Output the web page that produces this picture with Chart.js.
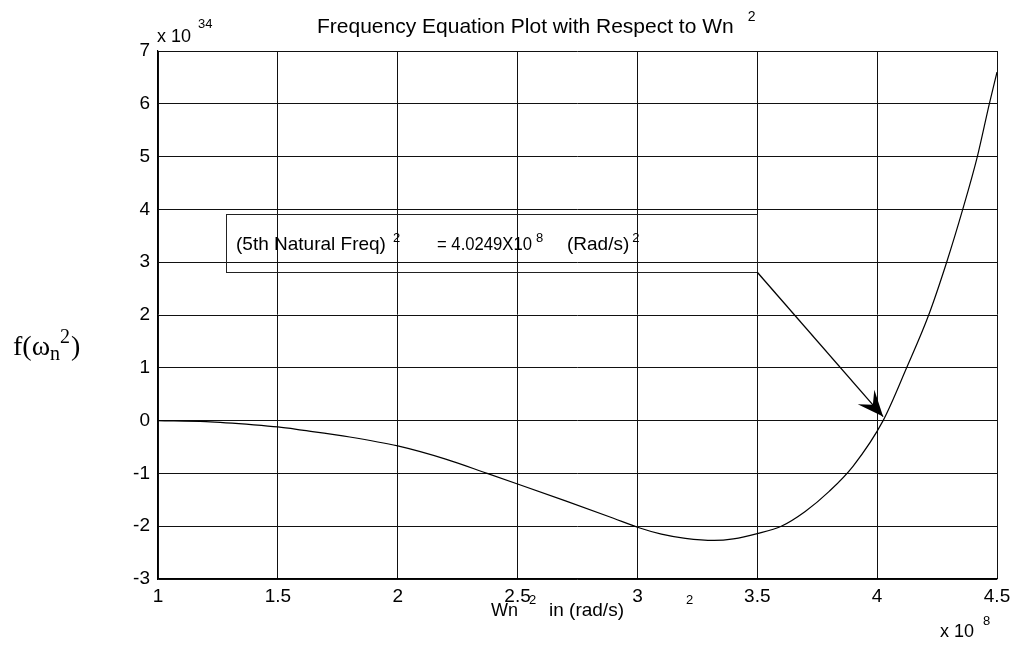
<!DOCTYPE html>
<html>
<head>
<meta charset="utf-8">
<script src="https://cdn.jsdelivr.net/npm/chart.js@4/dist/chart.umd.min.js"></script>
<style>
  html, body { margin: 0; padding: 0; background: #fff; }
  #wrap { width: 1013px; height: 645px; }
</style>
</head>
<body>
<div id="wrap"><canvas id="c" width="1013" height="645"></canvas></div>
<script>
// Wn^2 (x 10^8)
const xVals = [1.0, 1.2, 1.4, 1.5, 1.6, 1.8, 2.0, 2.2, 2.373, 2.5, 2.7, 2.9, 3.0, 3.1, 3.2, 3.32, 3.4, 3.5, 3.6, 3.7, 3.8, 3.9, 4.0249, 4.123, 4.215, 4.29, 4.357, 4.418, 4.468, 4.5];
// f(wn^2) (x 10^34)
const yVals = [0, -0.02, -0.08, -0.12, -0.18, -0.31, -0.48, -0.73, -1.0, -1.2, -1.52, -1.85, -2.02, -2.15, -2.23, -2.27, -2.24, -2.14, -2.0, -1.72, -1.34, -0.86, 0, 1, 2, 3, 4, 5, 6, 6.6];
const xTicks = [1, 1.5, 2, 2.5, 3, 3.5, 4, 4.5];
const yTicks = [-3, -2, -1, 0, 1, 2, 3, 4, 5, 6, 7];
const rootX = 4.0249;
const noteBox = { x0: 1.283, x1: 3.5, y0: 3.91, y1: 2.81 };

const SANS = '"Liberation Sans", Arial, sans-serif';
const SERIF = '"Liberation Serif", "Times New Roman", serif';

const points = xVals.map((x, i) => ({ x: x, y: yVals[i] }));

function txt(ctx, s, x, y, size, family, maxW) {
  ctx.font = size + 'px ' + (family || SANS);
  if (maxW) ctx.fillText(s, x, y, maxW); else ctx.fillText(s, x, y);
  return x + Math.min(ctx.measureText(s).width, maxW || 1e9);
}

const overlay = {
  id: 'overlay',
  afterDraw(chart) {
    const ctx = chart.ctx;
    const xs = chart.scales.x, ys = chart.scales.y;
    ctx.save();
    ctx.fillStyle = '#000';
    ctx.textBaseline = 'alphabetic';
    ctx.textAlign = 'left';

    // Title
    let e = txt(ctx, 'Frequency Equation Plot with Respect to Wn', 317, 33, 21);
    txt(ctx, '2', e + 14, 21, 14);

    // Exponent labels
    e = txt(ctx, 'x 10', 157, 42, 18);
    txt(ctx, '34', e + 7, 28, 13);
    e = txt(ctx, 'x 10', 940, 637, 18);
    txt(ctx, '8', e + 9, 625, 13);

    // X axis title
    e = txt(ctx, 'Wn', 491, 616, 18);
    txt(ctx, '2', e + 11, 604, 13);
    txt(ctx, 'in (rad/s)', 549, 616, 19);
    txt(ctx, '2', 686, 604, 13);

    // Y axis title
    e = txt(ctx, 'f(\u03c9', 13, 355, 28, SERIF);
    e = txt(ctx, 'n', e, 360, 20, SERIF);
    e = txt(ctx, '2', e, 343, 20, SERIF);
    txt(ctx, ')', e + 1, 355, 28, SERIF);

    // Annotation box
    const bx0 = xs.getPixelForValue(noteBox.x0), bx1 = xs.getPixelForValue(noteBox.x1);
    const by0 = ys.getPixelForValue(noteBox.y0), by1 = ys.getPixelForValue(noteBox.y1);
    ctx.strokeStyle = '#222';
    ctx.lineWidth = 1;
    ctx.strokeRect(Math.round(bx0) + 0.5, Math.round(by0) + 0.5, Math.round(bx1 - bx0), Math.round(by1 - by0));

    txt(ctx, '(5th Natural Freq)', 236, 250, 19, SANS, 152);
    txt(ctx, '2', 393, 242, 13);
    e = txt(ctx, '= 4.0249X10', 437, 250, 18, SANS, 95);
    txt(ctx, '8', e + 4, 242, 13);
    e = txt(ctx, '(Rad/s)', 567, 250, 19, SANS, 63);
    txt(ctx, '2', e + 3, 242, 13);

    // Arrow
    const sx = bx1, sy = by1;
    const tx = xs.getPixelForValue(rootX), ty = ys.getPixelForValue(0) - 4;
    ctx.strokeStyle = '#000';
    ctx.lineWidth = 1.3;
    ctx.beginPath();
    ctx.moveTo(sx, sy);
    ctx.lineTo(tx, ty);
    ctx.stroke();
    const ang = Math.atan2(ty - sy, tx - sx);
    const L = 26, W = 11;
    const bxp = tx - L * Math.cos(ang), byp = ty - L * Math.sin(ang);
    ctx.beginPath();
    ctx.moveTo(tx, ty);
    ctx.lineTo(bxp + W * Math.sin(ang), byp - W * Math.cos(ang));
    ctx.lineTo(tx - 0.6 * L * Math.cos(ang), ty - 0.6 * L * Math.sin(ang));
    ctx.lineTo(bxp - W * Math.sin(ang), byp + W * Math.cos(ang));
    ctx.closePath();
    ctx.fill();
    ctx.restore();
  }
};

new Chart(document.getElementById('c'), {
  type: 'line',
  data: {
    datasets: [{
      data: points,
      borderColor: '#000',
      borderWidth: 1.2,
      pointRadius: 0,
      fill: false,
      cubicInterpolationMode: 'monotone'
    }]
  },
  options: {
    responsive: false,
    animation: false,
    events: [],
    layout: { padding: { left: 0, top: 51, right: 16, bottom: 0 } },
    plugins: { legend: { display: false }, title: { display: false }, tooltip: { enabled: false } },
    scales: {
      x: {
        type: 'linear',
        min: 1, max: 4.5,
        afterBuildTicks: (s) => { s.ticks = xTicks.map(v => ({ value: v })); },
        afterFit: (s) => { s.height = 66; s.paddingLeft = 0; s.paddingRight = 0; },
        grid: { color: '#111', lineWidth: 1, drawTicks: false },
        border: { color: '#000', width: 1.2 },
        ticks: { color: '#000', padding: 6, maxRotation: 0, autoSkip: false,
                 font: { family: SANS, size: 19 },
                 callback: (v) => String(v) }
      },
      y: {
        type: 'linear',
        min: -3, max: 7,
        afterBuildTicks: (s) => { s.ticks = yTicks.map(v => ({ value: v })); },
        afterFit: (s) => { s.width = 158; s.paddingTop = 0; s.paddingBottom = 0; },
        grid: { color: '#111', lineWidth: 1, drawTicks: false },
        border: { color: '#000', width: 1.2 },
        ticks: { color: '#000', padding: 8, autoSkip: false,
                 font: { family: SANS, size: 19 },
                 callback: (v) => String(v) }
      }
    }
  },
  plugins: [overlay]
});
</script>
</body>
</html>
